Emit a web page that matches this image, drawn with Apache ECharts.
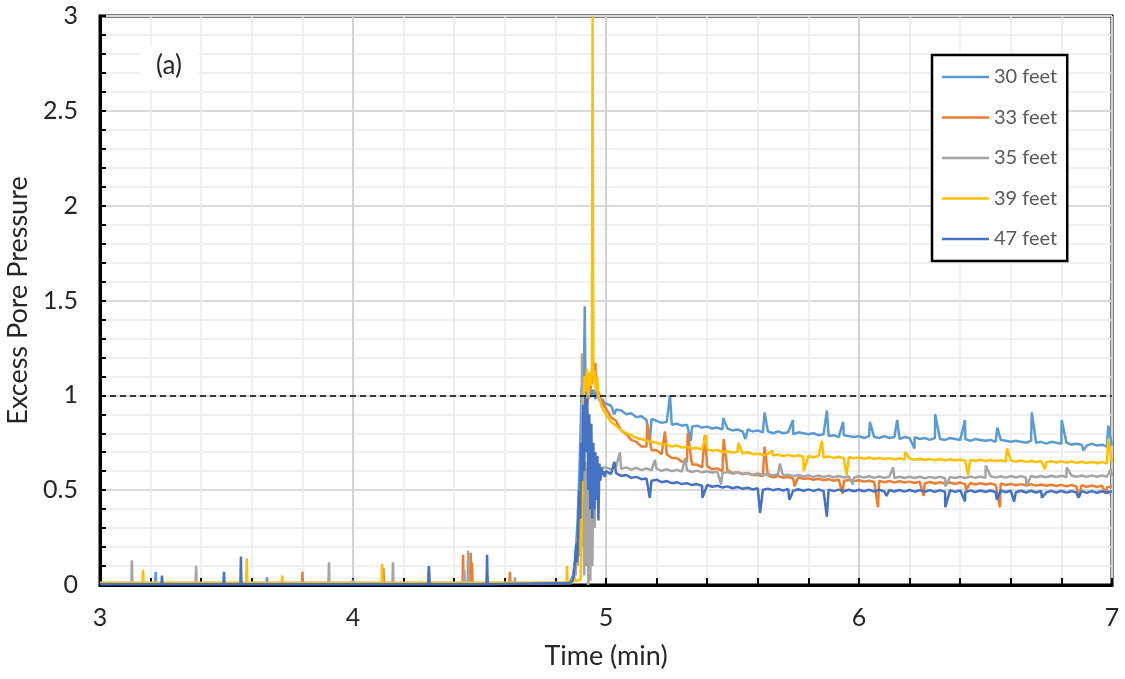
<!DOCTYPE html>
<html>
<head>
<meta charset="utf-8">
<script src="https://cdn.jsdelivr.net/npm/echarts@6/dist/echarts.min.js"></script>
<style>
html,body{margin:0;padding:0;background:#fff;}
#chart{width:1125px;height:679px;}
</style>
</head>
<body>
<div id="chart"></div>
<script>
// ---------------- DATA ----------------
const seriesNames = ['30 feet', '33 feet', '35 feet', '39 feet', '47 feet'];
const xTicks = [3, 4, 5, 6, 7];
const yTicks = [0, 0.5, 1, 1.5, 2, 2.5, 3];
const refLevel = 1;

// common time stamps (min) for the decay part of every record
const tailT = [
  5.00,5.02,5.04,5.06,5.08,5.10,5.12,5.14,5.16,5.18,
  5.20,5.22,5.24,5.26,5.28,5.30,5.32,5.34,5.36,5.38,
  5.40,5.42,5.44,5.46,5.48,5.50,5.52,5.54,5.56,5.58,
  5.60,5.62,5.64,5.66,5.68,5.70,5.72,5.74,5.76,5.78,
  5.80,5.82,5.84,5.86,5.88,5.90,5.92,5.94,5.96,5.98,
  6.00,6.02,6.04,6.06,6.08,6.10,6.12,6.14,6.16,6.18,
  6.20,6.22,6.24,6.26,6.28,6.30,6.32,6.34,6.36,6.38,
  6.40,6.42,6.44,6.46,6.48,6.50,6.52,6.54,6.56,6.58,
  6.60,6.62,6.64,6.66,6.68,6.70,6.72,6.74,6.76,6.78,
  6.80,6.82,6.84,6.86,6.88,6.90,6.92,6.94,6.96,6.98,
  7.00
];

// 30 feet
const early30 = [[3.0,0.008],[3.218,0.008],[3.22,0.07],[3.222,0.008],[3.658,0.008],[3.66,0.04],[3.662,0.008],
  [3.998,0.008],[4.0,0.03],[4.002,0.008],[4.528,0.008],[4.53,0.05],[4.532,0.008],[4.84,0.01],[4.86,0.02],
  [4.872,0.06],[4.88,0.15],[4.888,0.35],[4.895,0.6],[4.9,0.85],[4.904,1.05],[4.908,0.95],[4.913,1.1],
  [4.916,1.47],[4.919,1.0],[4.924,1.08],[4.93,0.98],[4.936,1.06],[4.942,0.99],[4.95,1.03],[4.958,0.98],
  [4.966,1.01],[4.975,0.97],[4.985,0.98],[4.993,0.96]];
const tail30 = [
  0.97,0.945,0.925,0.92,0.90,0.905,0.885,0.89,0.87,0.875,
  0.865,0.855,0.86,0.845,0.85,0.84,0.845,0.835,0.84,0.83,
  0.835,0.825,0.83,0.82,0.825,0.815,0.82,0.81,0.82,0.81,
  0.815,0.805,0.81,0.80,0.81,0.80,0.805,0.795,0.805,0.80,
  0.795,0.80,0.79,0.795,0.785,0.79,0.78,0.79,0.785,0.78,
  0.785,0.775,0.785,0.78,0.775,0.785,0.775,0.78,0.77,0.78,
  0.775,0.78,0.77,0.775,0.765,0.775,0.77,0.765,0.775,0.77,
  0.765,0.77,0.76,0.77,0.765,0.76,0.765,0.755,0.765,0.76,
  0.755,0.76,0.755,0.75,0.76,0.75,0.755,0.745,0.755,0.75,
  0.745,0.75,0.74,0.745,0.74,0.735,0.745,0.735,0.74,0.73,
  0.735];
const spikes30 = [[5.033,0.90],[5.173,0.76],[5.253,1.0],[5.335,0.76],[5.463,0.88],[5.551,0.77],[5.627,0.91],
  [5.739,0.87],[5.873,0.92],[5.937,0.86],[6.043,0.86],[6.151,0.87],[6.219,0.72],[6.301,0.90],[6.419,0.87],
  [6.547,0.83],[6.683,0.91],[6.801,0.87],[6.887,0.71],[6.985,0.84]];

// 33 feet
const early33 = [[3.0,0.006],[3.798,0.006],[3.8,0.07],[3.802,0.006],[4.118,0.006],[4.12,0.09],[4.122,0.006],
  [4.298,0.006],[4.3,0.06],[4.302,0.006],[4.433,0.006],[4.435,0.16],[4.437,0.006],[4.463,0.006],[4.465,0.17],
  [4.467,0.006],[4.47,0.12],[4.473,0.006],[4.618,0.006],[4.62,0.07],[4.622,0.006],[4.86,0.01],
  [4.87,0.02],[4.88,0.08],[4.89,0.2],[4.9,0.45],[4.91,0.7],[4.92,0.9],[4.93,1.0],[4.94,1.05],[4.95,1.1],
  [4.958,1.17],[4.962,1.0],[4.97,1.02],[4.98,0.98],[4.99,0.95]];
const tail33 = [
  0.93,0.885,0.865,0.815,0.795,0.765,0.755,0.73,0.73,0.71,
  0.71,0.69,0.69,0.67,0.67,0.65,0.65,0.635,0.635,0.62,
  0.625,0.61,0.615,0.60,0.605,0.59,0.595,0.585,0.59,0.58,
  0.58,0.575,0.578,0.568,0.575,0.565,0.57,0.56,0.568,0.56,
  0.562,0.555,0.56,0.552,0.558,0.55,0.556,0.548,0.555,0.548,
  0.552,0.545,0.55,0.543,0.55,0.542,0.548,0.54,0.547,0.54,
  0.545,0.538,0.545,0.536,0.543,0.535,0.542,0.534,0.54,0.533,
  0.54,0.532,0.538,0.53,0.537,0.53,0.535,0.528,0.535,0.527,
  0.533,0.526,0.532,0.525,0.531,0.524,0.53,0.523,0.529,0.522,
  0.528,0.52,0.527,0.519,0.526,0.518,0.525,0.517,0.524,0.516,
  0.52];
const spikes33 = [[5.163,0.85],[5.233,0.81],[5.323,0.80],[5.391,0.79],[5.465,0.77],[5.627,0.73],[5.745,0.52],
  [5.935,0.48],[6.075,0.41],[6.255,0.47],[6.423,0.50],[6.557,0.41],[6.869,0.46],[6.977,0.48]];

// 35 feet
const early35 = [[3.0,0.01],[3.124,0.01],[3.126,0.13],[3.128,0.01],[3.378,0.01],[3.38,0.10],[3.382,0.01],
  [3.903,0.01],[3.905,0.12],[3.907,0.01],[4.156,0.01],[4.158,0.12],[4.16,0.01],[4.298,0.01],[4.30,0.10],
  [4.302,0.01],[4.438,0.01],[4.44,0.08],[4.442,0.01],[4.453,0.01],[4.455,0.18],[4.457,0.01],[4.638,0.01],
  [4.64,0.04],[4.642,0.01],[4.862,0.01],[4.87,0.04],[4.876,0.12],[4.88,0.05],[4.884,0.25],[4.888,0.1],
  [4.892,0.4],[4.896,0.15],[4.9,0.55],[4.903,0.2],[4.905,1.22],[4.907,0.3],[4.91,0.6],[4.914,0.05],
  [4.918,0.65],[4.922,0.1],[4.926,0.62],[4.93,0.0],[4.934,0.58],[4.938,0.02],[4.942,0.6],[4.946,0.1],
  [4.95,0.64],[4.955,0.3],[4.96,0.66],[4.966,0.6],[4.972,0.63],[4.98,0.6],[4.99,0.62]];
const tail35 = [
  0.62,0.61,0.625,0.612,0.62,0.608,0.618,0.606,0.615,0.605,
  0.612,0.602,0.61,0.60,0.607,0.598,0.605,0.596,0.603,0.594,
  0.60,0.592,0.598,0.59,0.595,0.587,0.593,0.585,0.59,0.582,
  0.588,0.58,0.586,0.578,0.584,0.576,0.582,0.574,0.58,0.572,
  0.578,0.57,0.577,0.569,0.576,0.568,0.575,0.567,0.574,0.567,
  0.573,0.566,0.573,0.565,0.572,0.565,0.572,0.564,0.571,0.564,
  0.571,0.564,0.571,0.563,0.57,0.564,0.571,0.563,0.57,0.564,
  0.571,0.564,0.572,0.565,0.572,0.565,0.573,0.566,0.573,0.566,
  0.574,0.567,0.574,0.567,0.575,0.568,0.575,0.568,0.576,0.569,
  0.576,0.569,0.577,0.57,0.577,0.57,0.578,0.571,0.578,0.571,
  0.575];
const spikes35 = [[5.055,0.70],[5.193,0.66],[5.313,0.67],[5.455,0.53],[5.687,0.64],[5.975,0.53],[6.135,0.62],
  [6.341,0.52],[6.501,0.63],[6.661,0.52],[6.821,0.62],[6.995,0.61]];

// 39 feet
const early39 = [[3.0,0.012],[3.168,0.012],[3.17,0.08],[3.172,0.012],[3.578,0.012],[3.58,0.14],[3.582,0.012],
  [3.718,0.012],[3.72,0.05],[3.722,0.012],[4.113,0.012],[4.115,0.11],[4.117,0.012],[4.844,0.012],[4.846,0.10],
  [4.848,0.012],[4.866,0.01],[4.874,0.04],[4.88,0.02],[4.9,0.03],[4.91,0.9],[4.915,1.1],[4.92,1.02],
  [4.925,1.14],[4.93,1.0],[4.935,1.12],[4.94,1.05],[4.944,1.15],[4.947,3.0],[4.95,1.08],[4.955,1.13],
  [4.96,1.02],[4.965,1.1],[4.97,1.0],[4.975,0.98],[4.98,0.95],[4.99,0.92]];
const tail39 = [
  0.90,0.86,0.84,0.815,0.80,0.79,0.775,0.77,0.76,0.755,
  0.75,0.74,0.742,0.73,0.735,0.725,0.728,0.72,0.722,0.715,
  0.715,0.708,0.712,0.70,0.706,0.698,0.703,0.693,0.70,0.69,
  0.692,0.685,0.69,0.682,0.688,0.68,0.686,0.678,0.684,0.676,
  0.68,0.674,0.68,0.672,0.678,0.67,0.676,0.668,0.675,0.668,
  0.673,0.666,0.672,0.665,0.67,0.664,0.669,0.662,0.668,0.661,
  0.667,0.66,0.666,0.659,0.665,0.658,0.664,0.657,0.663,0.656,
  0.662,0.655,0.661,0.654,0.66,0.653,0.659,0.652,0.658,0.651,
  0.657,0.65,0.656,0.649,0.655,0.648,0.654,0.647,0.653,0.646,
  0.652,0.645,0.651,0.644,0.65,0.643,0.649,0.642,0.648,0.641,
  0.645];
const spikes39 = [[5.395,0.79],[5.523,0.75],[5.657,0.71],[5.781,0.60],[5.853,0.76],[5.951,0.58],[6.183,0.70],
  [6.431,0.58],[6.585,0.72],[6.735,0.61],[6.985,0.77]];

// 47 feet
const early47 = [[3.0,0.004],[3.243,0.004],[3.245,0.05],[3.247,0.004],[3.488,0.004],[3.49,0.07],[3.492,0.004],
  [3.555,0.004],[3.557,0.15],[3.559,0.004],[4.298,0.004],[4.3,0.10],[4.302,0.004],[4.528,0.004],[4.53,0.16],
  [4.532,0.004],[4.86,0.01],[4.87,0.03],[4.876,0.1],[4.882,0.22],[4.886,0.12],[4.89,0.3],[4.894,0.5],
  [4.898,0.35],[4.902,0.75],[4.906,0.55],[4.91,0.95],[4.914,0.6],[4.918,1.0],[4.922,0.7],[4.926,0.98],
  [4.93,0.5],[4.934,0.9],[4.938,0.4],[4.942,0.85],[4.946,0.35],[4.95,0.75],[4.954,0.4],[4.958,0.7],
  [4.962,0.45],[4.966,0.68],[4.97,0.34],[4.974,0.64],[4.978,0.55],[4.982,0.62],[4.986,0.58],[4.99,0.6],
  [4.995,0.57]];
const tail47 = [
  0.60,0.585,0.59,0.575,0.58,0.565,0.57,0.558,0.562,0.55,
  0.555,0.542,0.548,0.537,0.542,0.532,0.537,0.527,0.532,0.522,
  0.527,0.518,0.523,0.514,0.52,0.51,0.517,0.507,0.513,0.504,
  0.51,0.502,0.508,0.5,0.507,0.498,0.506,0.497,0.505,0.497,
  0.504,0.496,0.504,0.495,0.503,0.495,0.503,0.494,0.502,0.494,
  0.502,0.494,0.502,0.493,0.502,0.493,0.501,0.493,0.501,0.492,
  0.501,0.492,0.5,0.492,0.5,0.491,0.5,0.491,0.5,0.491,
  0.499,0.49,0.499,0.49,0.498,0.49,0.498,0.489,0.498,0.489,
  0.497,0.489,0.497,0.488,0.497,0.488,0.496,0.488,0.496,0.487,
  0.496,0.487,0.495,0.487,0.495,0.486,0.495,0.486,0.494,0.486,
  0.494];
const spikes47 = [[5.033,0.65],[5.173,0.46],[5.381,0.46],[5.609,0.38],[5.725,0.45],[5.873,0.36],[6.109,0.47],
  [6.341,0.41],[6.419,0.44],[6.545,0.45],[6.613,0.44],[6.723,0.46],[6.867,0.46]];

const colors = ['#5B9BD5', '#ED7D31', '#A5A5A5', '#FFC000', '#4472C4'];

// ---------------- BUILD ----------------
function build(early, tail, spikes) {
  const pts = early.concat(tailT.map((t, i) => [t, tail[i]]), spikes);
  pts.sort((a, b) => a[0] - b[0]);
  return pts;
}
const allData = [
  build(early30, tail30, spikes30),
  build(early33, tail33, spikes33),
  build(early35, tail35, spikes35),
  build(early39, tail39, spikes39),
  build(early47, tail47, spikes47)
];

const FONT = 'Lato';
const series = seriesNames.map((name, i) => ({
  name: name,
  type: 'line',
  data: allData[i],
  symbol: 'none',
  showSymbol: false,
  color: colors[i],
  lineStyle: { width: 2.5, color: colors[i] },
  animation: false
}));
series[4].markLine = {
  silent: true,
  symbol: ['none', 'none'],
  label: { show: false },
  lineStyle: { color: '#000', type: [6, 4], width: 1.5 },
  data: [{ yAxis: refLevel }]
};

const chart = echarts.init(document.getElementById('chart'), null, { renderer: 'canvas' });
chart.setOption({
  backgroundColor: '#fff',
  animation: false,
  title: {
    text: '(a)',
    left: 140, top: 45,
    padding: [8, 16, 10, 16],
    backgroundColor: '#fff',
    textStyle: { fontFamily: FONT, fontSize: 26, fontWeight: 'normal', color: '#262626' }
  },
  legend: {
    data: seriesNames,
    orient: 'vertical',
    left: 932, top: 55,
    padding: [12, 10, 12, 10],
    itemGap: 20.5,
    icon: 'rect',
    itemWidth: 47, itemHeight: 2.5,
    backgroundColor: '#fff',
    borderColor: '#000', borderWidth: 2.5,
    textStyle: { fontFamily: FONT, fontSize: 20, color: '#595959' }
  },
  grid: {
    left: 100, right: 13, top: 16, bottom: 94,
    show: true, borderColor: '#000', borderWidth: 3,
    outerBoundsMode: 'none'
  },
  xAxis: {
    type: 'value',
    min: xTicks[0], max: xTicks[xTicks.length - 1], interval: 1,
    name: 'Time (min)', nameLocation: 'middle', nameGap: 58,
    nameTextStyle: { fontFamily: FONT, fontSize: 27, color: '#262626' },
    axisLine: { show: true, lineStyle: { color: '#000', width: 3 } },
    axisTick: { show: true, inside: true, length: 7, lineStyle: { color: '#000', width: 2 } },
    minorTick: { show: true, splitNumber: 5, length: 7, lineStyle: { color: '#000', width: 2 } },
    axisLabel: { fontFamily: FONT, fontSize: 25, color: '#262626', margin: 20 },
    splitLine: { show: true, lineStyle: { color: '#d2d2d2', width: 2 } },
    minorSplitLine: { show: true, lineStyle: { color: '#ececec', width: 1.5 } }
  },
  yAxis: {
    type: 'value',
    min: yTicks[0], max: yTicks[yTicks.length - 1], interval: 0.5,
    name: 'Excess Pore Pressure', nameLocation: 'middle', nameGap: 68,
    nameTextStyle: { fontFamily: FONT, fontSize: 27, color: '#262626' },
    axisLine: { show: true, lineStyle: { color: '#000', width: 3 } },
    axisTick: { show: true, inside: true, length: 6, lineStyle: { color: '#000', width: 2 } },
    minorTick: { show: true, splitNumber: 5, length: 6, lineStyle: { color: '#000', width: 2 } },
    axisLabel: { fontFamily: FONT, fontSize: 25, color: '#262626', margin: 22 },
    splitLine: { show: true, lineStyle: { color: '#d9d9d9', width: 2 } },
    minorSplitLine: { show: true, lineStyle: { color: '#ececec', width: 1.5 } }
  },
  series: series
});
</script>
</body>
</html>
